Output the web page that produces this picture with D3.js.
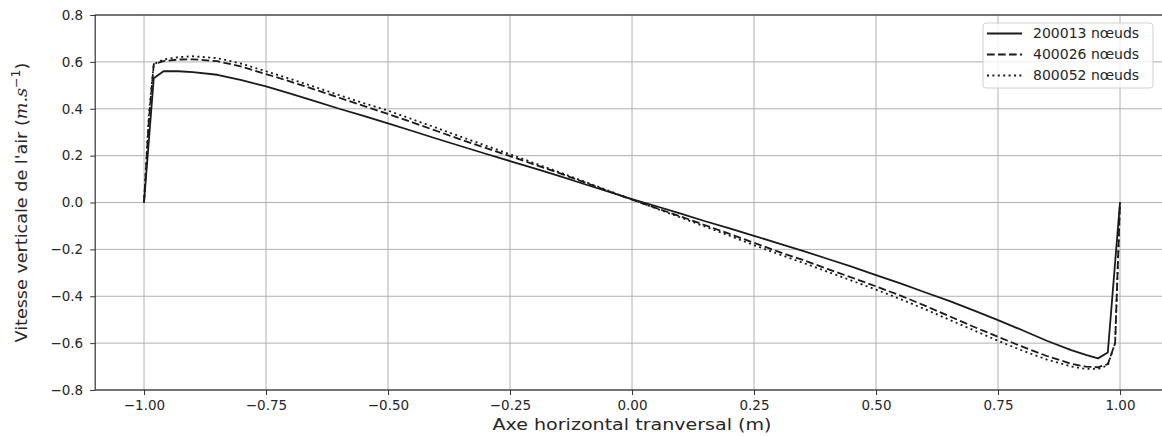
<!DOCTYPE html>
<html><head><meta charset="utf-8">
<script src="https://cdn.jsdelivr.net/npm/d3@7"></script>
<style>body{margin:0;background:#fff}svg{display:block}text{font-family:"DejaVu Sans",sans-serif}</style>
</head><body><svg id="c" width="1162" height="436"></svg>
<script>
const seriesNames = ["200013 nœuds","400026 nœuds","800052 nœuds"];
const xTicks = [-1.00,-0.75,-0.50,-0.25,0.00,0.25,0.50,0.75,1.00];
const yTicks = [-0.8,-0.6,-0.4,-0.2,0.0,0.2,0.4,0.6,0.8];

const x1 = [-1,-0.98,-0.96,-0.93,-0.9,-0.85,-0.8,-0.75,-0.7,-0.65,-0.6,-0.55,-0.5,-0.45,-0.4,-0.35,-0.3,-0.25,-0.2,-0.15,-0.1,-0.05,0,0.05,0.1,0.15,0.2,0.25,0.3,0.35,0.4,0.45,0.5,0.55,0.6,0.65,0.7,0.75,0.8,0.85,0.9,0.93,0.955,0.975,1];
const y1 = [0,0.53,0.56,0.56,0.556,0.545,0.522,0.495,0.465,0.433,0.40,0.37,0.338,0.305,0.272,0.24,0.208,0.177,0.146,0.114,0.08,0.047,0.014,-0.016,-0.047,-0.08,-0.11,-0.142,-0.174,-0.206,-0.24,-0.274,-0.31,-0.345,-0.383,-0.42,-0.46,-0.502,-0.545,-0.59,-0.63,-0.65,-0.665,-0.64,0];

const x2 = [-1,-0.99,-0.98,-0.96,-0.93,-0.9,-0.85,-0.8,-0.75,-0.7,-0.65,-0.6,-0.55,-0.5,-0.45,-0.4,-0.35,-0.3,-0.25,-0.2,-0.15,-0.1,-0.05,0,0.05,0.1,0.15,0.2,0.25,0.3,0.35,0.4,0.45,0.5,0.55,0.6,0.65,0.7,0.75,0.8,0.85,0.9,0.93,0.955,0.975,0.99,1];
const y2 = [0,0.35,0.59,0.603,0.61,0.611,0.603,0.58,0.548,0.516,0.482,0.447,0.412,0.378,0.342,0.305,0.268,0.233,0.198,0.162,0.126,0.088,0.05,0.012,-0.024,-0.06,-0.097,-0.134,-0.172,-0.21,-0.245,-0.283,-0.32,-0.358,-0.397,-0.44,-0.485,-0.53,-0.573,-0.615,-0.655,-0.688,-0.7,-0.703,-0.69,-0.6,0];

const x3 = [-1,-0.99,-0.98,-0.96,-0.93,-0.9,-0.85,-0.8,-0.75,-0.7,-0.65,-0.6,-0.55,-0.5,-0.45,-0.4,-0.35,-0.3,-0.25,-0.2,-0.15,-0.1,-0.05,0,0.05,0.1,0.15,0.2,0.25,0.3,0.35,0.4,0.45,0.5,0.55,0.6,0.65,0.7,0.75,0.8,0.85,0.9,0.93,0.955,0.975,0.99,1];
const y3 = [0,0.38,0.59,0.61,0.62,0.624,0.616,0.592,0.56,0.527,0.493,0.458,0.424,0.392,0.355,0.318,0.28,0.243,0.206,0.168,0.13,0.091,0.052,0.013,-0.026,-0.064,-0.103,-0.142,-0.182,-0.22,-0.257,-0.295,-0.333,-0.372,-0.412,-0.455,-0.5,-0.545,-0.59,-0.632,-0.67,-0.7,-0.71,-0.71,-0.695,-0.6,0];

const m = {l:95.2, t:15, r:1168.8, b:390};
const x = d3.scaleLinear().domain([-1.1,1.1]).range([m.l,m.r]);
const y = d3.scaleLinear().domain([-0.8,0.8]).range([m.b,m.t]);
const svg = d3.select("#c");

// grid
svg.append("g").selectAll("line").data(xTicks).join("line")
  .attr("x1",d=>x(d)).attr("x2",d=>x(d)).attr("y1",m.t).attr("y2",m.b)
  .attr("stroke","#b0b0b0").attr("stroke-width",1);
svg.append("g").selectAll("line").data(yTicks).join("line")
  .attr("x1",m.l).attr("x2",m.r).attr("y1",d=>y(d)).attr("y2",d=>y(d))
  .attr("stroke","#b0b0b0").attr("stroke-width",1);

const fmtX = d=> (d<0?"\u2212":"") + Math.abs(d).toFixed(2);
const fmtY = d=> (d<0?"\u2212":"") + Math.abs(d).toFixed(1);

const gx = svg.append("g").attr("transform",`translate(0,${m.b})`)
  .call(d3.axisBottom(x).tickValues(xTicks).tickFormat(fmtX).tickSize(5).tickPadding(5));
const gy = svg.append("g").attr("transform",`translate(${m.l},0)`)
  .call(d3.axisLeft(y).tickValues(yTicks).tickFormat(fmtY).tickSize(5).tickPadding(7));
[gx,gy].forEach(g=>{
  g.select(".domain").remove();
  g.selectAll("line").attr("stroke","#333").attr("stroke-width",1);
  g.selectAll("text").attr("font-size","13.5px").attr("fill","#262626").attr("font-family","DejaVu Sans");
});
// spines
svg.append("rect").attr("x",m.l).attr("y",m.t).attr("width",m.r-m.l).attr("height",m.b-m.t)
  .attr("fill","none").attr("stroke","#333").attr("stroke-width",1.2);

const dashes = [null,"7.7,3.3","2,3.4"];
const data = [[x1,y1],[x2,y2],[x3,y3]];
const line = d3.line().x(d=>x(d[0])).y(d=>y(d[1]));
data.forEach((s,i)=>{
  const pts = s[0].map((v,j)=>[v,s[1][j]]);
  svg.append("path").datum(pts).attr("d",line).attr("fill","none")
    .attr("stroke","#1a1a1a").attr("stroke-width",1.8)
    .attr("stroke-dasharray",dashes[i]).attr("stroke-linejoin","round");
});

// legend
const lg = svg.append("g");
lg.append("rect").attr("x",983).attr("y",23).attr("width",170).attr("height",65).attr("rx",3)
  .attr("fill","#fff").attr("fill-opacity",0.8).attr("stroke","#d0d0d0").attr("stroke-width",1);
seriesNames.forEach((n,i)=>{
  const yy = 33.5 + i*21;
  lg.append("line").attr("x1",987).attr("x2",1022).attr("y1",yy).attr("y2",yy)
    .attr("stroke","#1a1a1a").attr("stroke-width",1.8).attr("stroke-dasharray",dashes[i]);
  lg.append("text").attr("x",1033).attr("y",yy).attr("dy","0.35em").attr("font-size","14px")
    .attr("fill","#262626").text(n);
});

// axis labels
svg.append("text").attr("x",(x(-1)+x(1))/2).attr("y",430).attr("text-anchor","middle")
  .attr("font-size","16.5px").attr("fill","#262626")
  .attr("textLength",279).attr("lengthAdjust","spacingAndGlyphs")
  .text("Axe horizontal tranversal (m)");
const yl = svg.append("text").attr("transform",`translate(27,${(m.t+m.b)/2}) rotate(-90)`)
  .attr("text-anchor","middle").attr("font-size","16px").attr("fill","#262626")
  .attr("textLength",280).attr("lengthAdjust","spacingAndGlyphs");
yl.append("tspan").text("Vitesse verticale de l'air (");
yl.append("tspan").attr("font-style","italic").attr("font-family","DejaVu Serif").text("m.s");
yl.append("tspan").attr("font-size","11.5px").attr("dy","-7").text("\u22121");
yl.append("tspan").attr("dy","7").text(")");
</script></body></html>
